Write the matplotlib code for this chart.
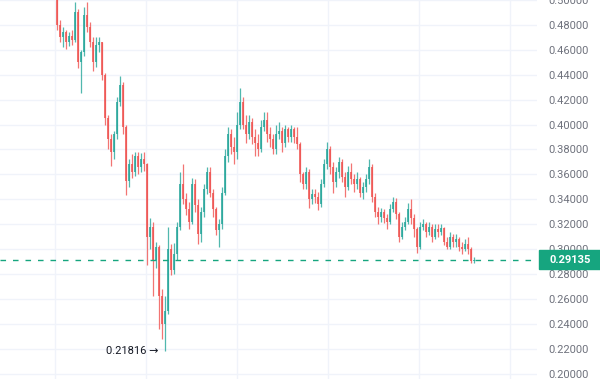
import numpy as np
import matplotlib
matplotlib.use("Agg")
import matplotlib.pyplot as plt
from matplotlib.patches import Rectangle
from matplotlib.transforms import blended_transform_factory

plt.rcParams['font.family'] = ['Roboto', 'DejaVu Sans']

# OHLC, one candle per bar
opens = [0.500, 0.480, 0.470, 0.474, 0.466, 0.471, 0.468, 0.490, 0.450, 0.458,
         0.488, 0.478, 0.466, 0.450, 0.464, 0.466, 0.440, 0.405, 0.388, 0.378,
         0.392, 0.418, 0.432, 0.398, 0.355, 0.368, 0.362, 0.375, 0.366, 0.372,
         0.368, 0.310, 0.318, 0.290, 0.302, 0.262, 0.240, 0.250, 0.300, 0.283,
         0.296, 0.318, 0.352, 0.340, 0.332, 0.322, 0.352, 0.335, 0.312, 0.330,
         0.348, 0.362, 0.345, 0.332, 0.315, 0.320, 0.345, 0.375, 0.392, 0.382,
         0.378, 0.400, 0.418, 0.400, 0.392, 0.402, 0.390, 0.385, 0.380, 0.398,
         0.404, 0.392, 0.388, 0.380, 0.392, 0.395, 0.385, 0.396, 0.390, 0.396,
         0.390, 0.384, 0.360, 0.352, 0.362, 0.340, 0.344, 0.342, 0.336, 0.352,
         0.368, 0.380, 0.366, 0.354, 0.362, 0.370, 0.358, 0.350, 0.362, 0.356,
         0.352, 0.356, 0.345, 0.350, 0.356, 0.366, 0.342, 0.330, 0.326, 0.330,
         0.325, 0.322, 0.332, 0.338, 0.328, 0.310, 0.318, 0.322, 0.332, 0.325,
         0.316, 0.302, 0.318, 0.320, 0.314, 0.318, 0.310, 0.316, 0.314, 0.317,
         0.306, 0.302, 0.310, 0.306, 0.308, 0.302, 0.300, 0.304, 0.300, 0.290]
highs = [0.504, 0.484, 0.478, 0.476, 0.474, 0.476, 0.498, 0.493, 0.460, 0.494,
         0.498, 0.482, 0.470, 0.470, 0.470, 0.466, 0.441, 0.408, 0.392, 0.395,
         0.422, 0.439, 0.434, 0.400, 0.372, 0.376, 0.378, 0.378, 0.377, 0.378,
         0.369, 0.325, 0.322, 0.306, 0.303, 0.268, 0.262, 0.318, 0.304, 0.305,
         0.322, 0.362, 0.368, 0.345, 0.338, 0.357, 0.356, 0.340, 0.334, 0.352,
         0.366, 0.366, 0.348, 0.334, 0.324, 0.350, 0.380, 0.398, 0.396, 0.390,
         0.410, 0.429, 0.422, 0.408, 0.408, 0.405, 0.396, 0.392, 0.404, 0.410,
         0.410, 0.398, 0.392, 0.400, 0.402, 0.398, 0.400, 0.398, 0.400, 0.398,
         0.398, 0.386, 0.362, 0.366, 0.364, 0.348, 0.348, 0.346, 0.356, 0.372,
         0.386, 0.383, 0.370, 0.366, 0.374, 0.372, 0.362, 0.367, 0.369, 0.360,
         0.362, 0.358, 0.354, 0.360, 0.372, 0.368, 0.345, 0.334, 0.333, 0.332,
         0.328, 0.336, 0.342, 0.341, 0.330, 0.322, 0.326, 0.337, 0.340, 0.328,
         0.318, 0.322, 0.324, 0.322, 0.322, 0.320, 0.320, 0.320, 0.320, 0.318,
         0.310, 0.314, 0.312, 0.312, 0.310, 0.306, 0.308, 0.310, 0.302, 0.2935]
lows = [0.476, 0.466, 0.462, 0.461, 0.463, 0.464, 0.466, 0.445, 0.425, 0.455,
        0.474, 0.462, 0.443, 0.446, 0.458, 0.436, 0.400, 0.380, 0.367, 0.372,
        0.388, 0.415, 0.392, 0.343, 0.350, 0.357, 0.359, 0.360, 0.362, 0.363,
        0.287, 0.300, 0.262, 0.285, 0.236, 0.228, 0.21816, 0.248, 0.279, 0.280,
        0.291, 0.315, 0.336, 0.327, 0.316, 0.320, 0.330, 0.304, 0.306, 0.326,
        0.344, 0.342, 0.326, 0.311, 0.302, 0.316, 0.343, 0.370, 0.376, 0.368,
        0.372, 0.396, 0.396, 0.385, 0.388, 0.384, 0.375, 0.375, 0.378, 0.395,
        0.386, 0.382, 0.376, 0.376, 0.388, 0.378, 0.382, 0.386, 0.386, 0.385,
        0.380, 0.354, 0.348, 0.348, 0.333, 0.336, 0.337, 0.331, 0.334, 0.350,
        0.364, 0.360, 0.345, 0.350, 0.357, 0.354, 0.342, 0.347, 0.352, 0.346,
        0.348, 0.342, 0.340, 0.346, 0.352, 0.338, 0.326, 0.320, 0.322, 0.321,
        0.316, 0.320, 0.330, 0.324, 0.306, 0.308, 0.315, 0.320, 0.320, 0.310,
        0.297, 0.300, 0.315, 0.310, 0.311, 0.306, 0.308, 0.310, 0.311, 0.303,
        0.300, 0.300, 0.302, 0.302, 0.298, 0.296, 0.298, 0.296, 0.2885, 0.289]
closes = [0.480, 0.470, 0.474, 0.466, 0.471, 0.468, 0.490, 0.450, 0.458, 0.488,
          0.478, 0.466, 0.450, 0.464, 0.466, 0.440, 0.405, 0.388, 0.378, 0.392,
          0.418, 0.432, 0.398, 0.355, 0.368, 0.362, 0.375, 0.366, 0.372, 0.368,
          0.310, 0.318, 0.290, 0.302, 0.262, 0.240, 0.250, 0.300, 0.283, 0.296,
          0.318, 0.352, 0.340, 0.332, 0.322, 0.352, 0.335, 0.312, 0.330, 0.348,
          0.362, 0.345, 0.332, 0.315, 0.320, 0.345, 0.375, 0.392, 0.382, 0.378,
          0.400, 0.418, 0.400, 0.392, 0.402, 0.390, 0.385, 0.380, 0.398, 0.404,
          0.392, 0.388, 0.380, 0.392, 0.395, 0.385, 0.396, 0.390, 0.396, 0.390,
          0.384, 0.360, 0.352, 0.362, 0.340, 0.344, 0.342, 0.336, 0.352, 0.368,
          0.380, 0.366, 0.354, 0.362, 0.370, 0.358, 0.350, 0.362, 0.356, 0.352,
          0.356, 0.345, 0.350, 0.356, 0.366, 0.342, 0.330, 0.326, 0.330, 0.325,
          0.322, 0.332, 0.338, 0.328, 0.310, 0.318, 0.322, 0.332, 0.325, 0.316,
          0.302, 0.318, 0.320, 0.314, 0.318, 0.310, 0.316, 0.314, 0.317, 0.306,
          0.302, 0.310, 0.306, 0.308, 0.302, 0.300, 0.304, 0.300, 0.290, 0.29135]

price_ticks = [0.20, 0.22, 0.24, 0.26, 0.28, 0.30, 0.32, 0.34, 0.36, 0.38,
               0.40, 0.42, 0.44, 0.46, 0.48, 0.50]

UP = '#26a69a'
DOWN = '#ef5350'
LAST = '#16a57f'

o = np.array(opens)
h = np.array(highs)
l = np.array(lows)
c = np.array(closes)
x = np.arange(len(c))
cores = np.where(c >= o, UP, DOWN)

fig = plt.figure(figsize=(6.0, 3.79), dpi=100)
ax = fig.add_axes([0, 0, 537 / 600, 1])

# pavios e corpos
ax.vlines(x, l, h, colors=cores, linewidth=0.9, alpha=0.8, zorder=2)
altura = np.where(np.abs(c - o) < 0.0008, 0.0008, c - o)
ax.bar(x, altura, bottom=o, width=0.75, color=cores, alpha=0.8,
       linewidth=0, zorder=3)

# eixos, um candle a cada 3 px
ax.set_xlim(-57 / 3, (537 - 57) / 3)
ax.set_ylim(0.19559, 0.49966)

ax.set_yticks(price_ticks)
ax.set_yticklabels(['{:.5f}'.format(t) for t in price_ticks])
ax.yaxis.tick_right()
ax.tick_params(axis='y', length=0, pad=8.5, labelsize=8, labelcolor='#6f727d')
ax.set_xticks(np.arange(-2 / 3, 160, 91 / 3))
ax.tick_params(axis='x', length=0, labelbottom=False)
ax.grid(True, color='#f0f3fa', linewidth=1, zorder=0)
for s in ax.spines.values():
    s.set_visible(False)

# linha do preco atual
ultimo = c[-1]
ax.axhline(ultimo, color=LAST, linewidth=1, dashes=(4, 5), zorder=4)

trans = blended_transform_factory(fig.transFigure, ax.transData)
caixa = 19 / 24.93 * 0.02
fig.add_artist(Rectangle((539 / 600, ultimo - caixa / 2), 61 / 600, caixa,
                         transform=trans, color=LAST, zorder=10, clip_on=False))
fig.text(549 / 600, ultimo, '{:.5f}'.format(ultimo), transform=trans,
         color='white', fontsize=8, fontweight='bold', va='center',
         ha='left', zorder=11)

# minimo
i_min = int(np.argmin(l))
ax.annotate('{:.5f} \u2192'.format(l[i_min]), xy=(x[i_min], l[i_min]),
            xytext=(-7, 0), textcoords='offset pixels', ha='right',
            va='center', fontsize=8, color='#131722')

fig.savefig('out.png', dpi=100)
